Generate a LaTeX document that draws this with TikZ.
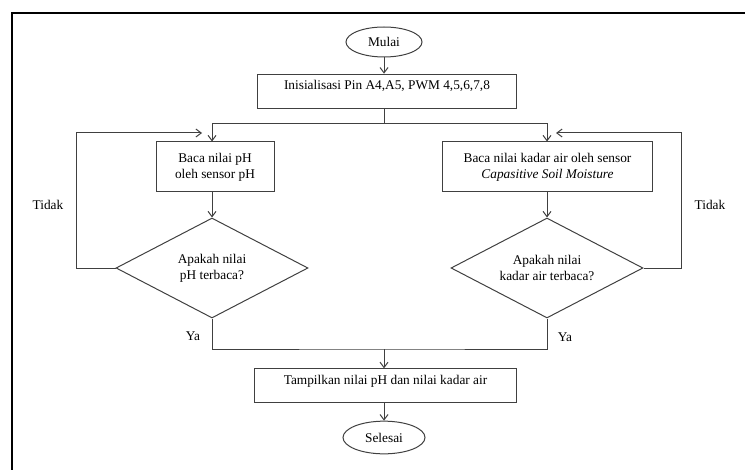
\documentclass[tikz,border=0pt]{standalone}
\usepackage{fontspec}
\setmainfont{Liberation Serif}
\usetikzlibrary{shapes.geometric,arrows.meta}

\begin{document}
\begin{tikzpicture}[>={Straight Barb[length=4pt,width=6pt]},x=0.75pt,y=-0.75pt,
	garis/.style={draw=black!75,line width=0.75pt},
	terminal/.style={ellipse,garis,inner sep=0pt},
	proses/.style={rectangle,garis,align=center,inner sep=0pt},
	keputusan/.style={diamond,garis,align=center,inner sep=0pt,shape aspect=1.92,minimum width=144pt,minimum height=75pt},
	teks/.style={inner sep=0pt}]
			\useasboundingbox (0,0) rectangle (745,470);
			\draw[line width=1.5pt] (12,470) -- (12,13) -- (745,13);
			
			\node[terminal,minimum width=57pt,minimum height=22.5pt] (mulai) at (384,42) {Mulai};
			\node[proses,minimum width=194pt,minimum height=26pt,text height=9pt,text depth=12pt] (init) at (387,91.5) {Inisialisasi Pin A4,A5, PWM 4,5,6,7,8};
			\coordinate (cabang) at (384,124);
			\node[proses,minimum width=88.5pt,minimum height=37.5pt] (bacaph) at (215,167) {Baca nilai pH\\oleh sensor pH};
			\node[proses,minimum width=157.5pt,minimum height=37.5pt] (bacakadar) at (547.5,167) {Baca nilai kadar air oleh sensor\\\textit{Capasitive Soil Moisture}};
			\node[keputusan] (cekph) at (212,268) {Apakah nilai\\pH terbaca?};
			\node[keputusan] (cekkadar) at (547,268) {Apakah nilai\\kadar air terbaca?};
			\coordinate (masukph) at (202,133);
			\coordinate (masukkadar) at (556,133);
			\coordinate (gabung) at (384,349);
			\node[proses,minimum width=196pt,minimum height=25pt,text height=9pt,text depth=10pt] (tampil) at (385.5,385.5) {Tampilkan nilai pH dan nilai kadar air};
			\node[terminal,minimum width=61.5pt,minimum height=24.5pt] (selesai) at (384,437.5) {Selesai};
			
			\node[teks] (tidakph) at (48,205) {Tidak};
			\node[teks] (tidakkadar) at (710,205) {Tidak};
			\node[teks] (yaph) at (193,336) {Ya};
			\node[teks] (yakadar) at (565,337) {Ya};
			
			\draw[garis,->] (mulai) -- (mulai |- init.north);
			\draw[garis] (mulai |- init.south) -- (cabang);
			\draw[garis,->] (cabang) -| (cekph.north |- bacaph.north);
			\draw[garis,->] (cabang) -| (cekkadar.north |- bacakadar.north);
			\draw[garis,->] (cekph.north |- bacaph.south) -- (cekph.north);
			\draw[garis,->] (cekkadar.north |- bacakadar.south) -- (cekkadar.north);
			\draw[garis,->] (cekph.west) -- ++(-39,0) |- (masukph);
			\draw[garis,->] (cekkadar.east) -- ++(38,0) |- (masukkadar);
			\draw[garis] (cekph.south) |- (gabung) -| (cekkadar.south);
			\draw[garis,->] (gabung) -- (gabung |- tampil.north);
			\draw[garis,->] (selesai |- tampil.south) -- (selesai);
		\end{tikzpicture}
\end{document}
